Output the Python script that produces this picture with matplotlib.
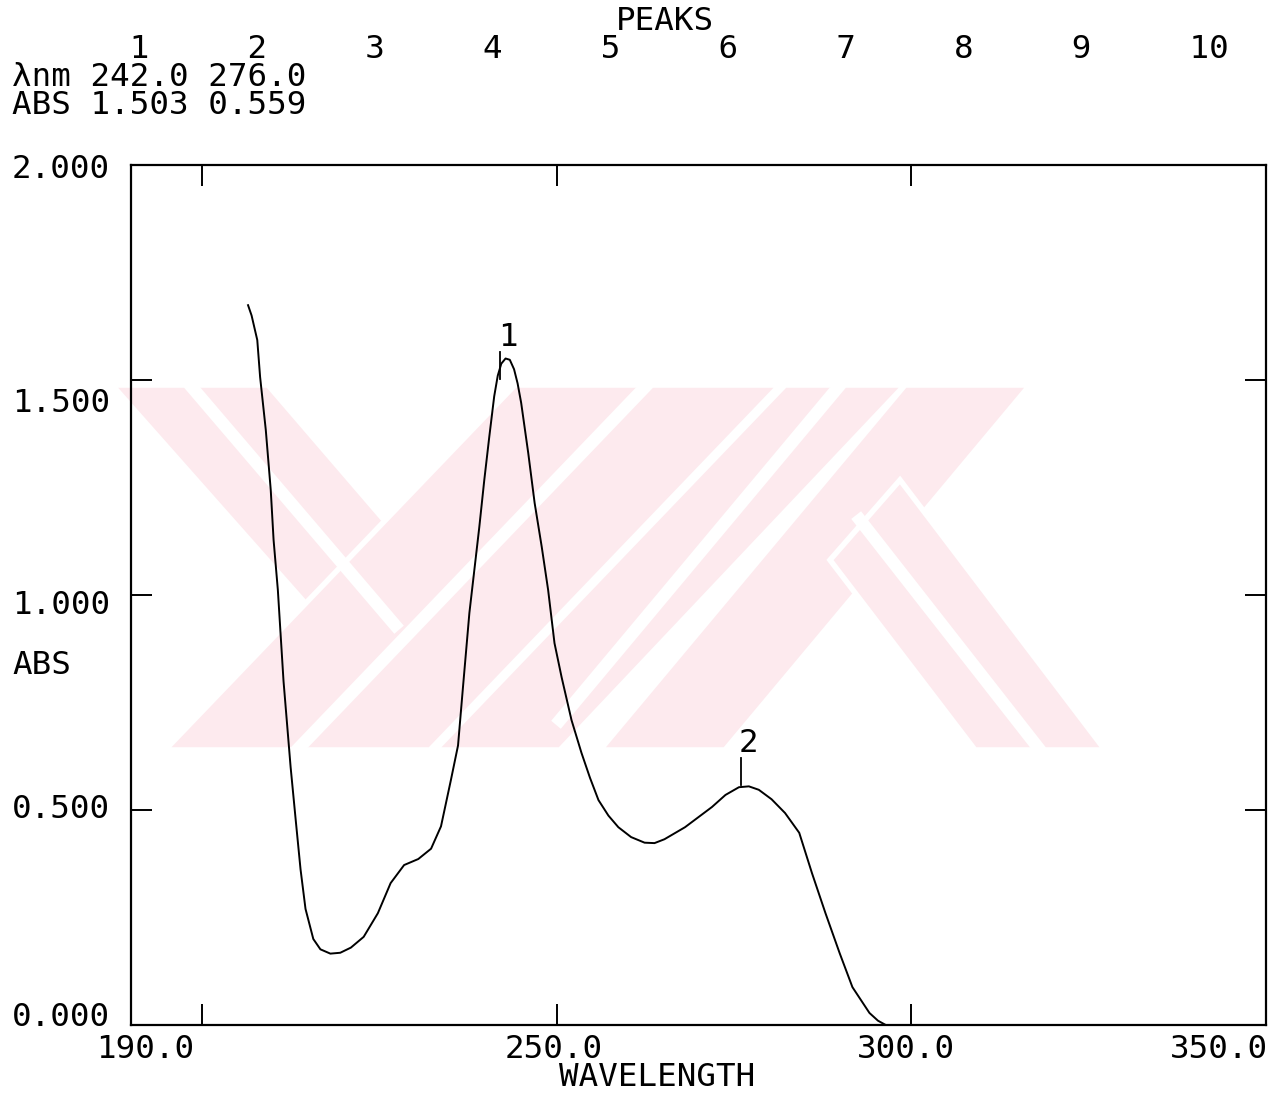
import matplotlib
matplotlib.use("Agg")
import matplotlib.pyplot as plt
from matplotlib.patches import Polygon

# spectrum (nm, absorbance)
wavelength = [206.5, 207.0, 207.8, 208.2, 209.0, 209.7, 210.1, 210.7, 211.5, 212.1,
              212.5, 213.2, 213.9, 214.6, 215.7, 216.7, 218.1, 219.5, 221.0, 222.8,
              224.8, 226.6, 228.5, 230.5, 232.3, 233.7, 235.1, 236.1, 236.8, 237.7,
              238.4, 239.1, 239.8, 240.5, 241.2, 241.7, 242.2, 242.8, 243.4, 244.0,
              244.5, 245.0, 246.0, 246.9, 247.9, 248.8, 249.7, 250.7, 252.1, 253.5,
              254.7, 255.9, 257.3, 258.7, 260.5, 262.4, 263.8, 265.2, 268.1, 271.9,
              273.8, 275.7, 277.1, 278.5, 280.3, 282.2, 284.2, 286.0, 287.9, 289.9,
              291.7, 294.1, 295.3, 296.4]
absorbance = [1.674, 1.650, 1.593, 1.507, 1.384, 1.244, 1.128, 1.012, 0.800, 0.680,
              0.600, 0.480, 0.362, 0.270, 0.200, 0.176, 0.166, 0.168, 0.180, 0.205,
              0.260, 0.330, 0.372, 0.386, 0.410, 0.462, 0.570, 0.650, 0.786, 0.958,
              1.058, 1.158, 1.267, 1.367, 1.462, 1.510, 1.538, 1.550, 1.547, 1.525,
              1.492, 1.447, 1.330, 1.214, 1.112, 1.012, 0.888, 0.809, 0.709, 0.633,
              0.575, 0.523, 0.487, 0.460, 0.437, 0.424, 0.423, 0.432, 0.460, 0.507,
              0.535, 0.553, 0.555, 0.547, 0.525, 0.493, 0.447, 0.353, 0.260, 0.167,
              0.088, 0.028, 0.010, 0.0]

peak_no = [1, 2]
peak_wl = [242.0, 276.0]
peak_abs = [1.503, 0.559]

x_ticks = [200, 250, 300]
x_labels = [190.0, 250.0, 300.0, 350.0]
y_ticks = [0.5, 1.0, 1.5]
y_labels = [0.0, 0.5, 1.0, 1.5, 2.0]

W, H = 1284, 1098
MONO = "DejaVu Sans Mono"
FS = 23.4

def fx(px):
    return px / W

def fy(py):
    return 1 - py / H

fig = plt.figure(figsize=(W / 100, H / 100), dpi=100)

# faint pink watermark, drawn in pixel coords on a background axes
bg = fig.add_axes([0, 0, 1, 1], zorder=0)
bg.set_xlim(0, W)
bg.set_ylim(H, 0)
bg.axis("off")
pink = "#fdeaee"
bands = [
    [(112, 385), (268, 385), (440, 585), (360, 665)],
    [(165, 750), (430, 750), (780, 385), (515, 385)],
    [(435, 750), (560, 750), (905, 385), (785, 385)],
    [(600, 750), (725, 750), (1030, 385), (905, 385)],
    [(830, 560), (900, 480), (1105, 750), (975, 750)],
]
for b in bands:
    bg.add_patch(Polygon(b, closed=True, facecolor=pink, edgecolor="white",
                         linewidth=4))
# thin white lines through the bands
stripes = [
    [(190, 385), (395, 625)],
    [(297, 750), (647, 385)],
    [(840, 385), (560, 720)],
    [(860, 520), (1040, 750)],
]
for s in stripes:
    bg.plot([s[0][0], s[1][0]], [s[0][1], s[1][1]], color="white", lw=9)

ax = fig.add_axes([fx(131), fy(1025), (1266 - 131) / W, (1025 - 165) / H], zorder=1)
ax.patch.set_alpha(0)
ax.set_xlim(190, 350)
ax.set_ylim(0, 2.0)

ax.plot(wavelength, absorbance, color="black", lw=1.4, solid_joinstyle="round")

for n, w, a in zip(peak_no, peak_wl, peak_abs):
    ax.plot([w, w], [a, a + 0.063], color="black", lw=1.3)
    ax.text(w + 1.1, a + 0.096, str(n), family=MONO, fontsize=FS,
            ha="center", va="center")

for s in ax.spines.values():
    s.set_linewidth(1.6)
ax.set_xticks(x_ticks)
ax.set_yticks(y_ticks)
ax.tick_params(direction="in", length=15, width=1.4, top=True, right=True,
               labelbottom=False, labelleft=False)

# tick labels, placed like the plotter did
def xpix(v):
    return 131 + (v - 190) / 160 * (1266 - 131)

def ypix(v):
    return 1025 - v / 2.0 * (1025 - 165)

x_shift = {190.0: 14, 250.0: -3, 300.0: -5, 350.0: -47}
for v in x_labels:
    fig.text(fx(xpix(v) + x_shift[v]), fy(1050), "%.1f" % v, family=MONO,
             fontsize=FS, ha="center", va="center")
y_shift = {0.0: -8, 0.5: 0, 1.0: 11, 1.5: 24, 2.0: 5}
for v in y_labels:
    fig.text(fx(110), fy(ypix(v) + y_shift[v]), "%.3f" % v, family=MONO,
             fontsize=FS, ha="right", va="center")

fig.text(fx(657), fy(1078), "WAVELENGTH", family=MONO, fontsize=FS,
         ha="center", va="center")
fig.text(fx(12), fy(665), "ABS", family=MONO, fontsize=FS, ha="left", va="center")

# peak table header
fig.text(fx(665), fy(22), "PEAKS", family=MONO, fontsize=FS, ha="center", va="center")
row = "".join(("%d" % (i + 1)).ljust(6) for i in range(10))
fig.text(fx(12), fy(50), " " * 6 + row.rstrip(), family=MONO, fontsize=FS,
         ha="left", va="center")
wl_row = "λnm " + " ".join("%.1f" % w for w in peak_wl)
abs_row = "ABS " + " ".join("%.3f" % a for a in peak_abs)
fig.text(fx(12), fy(78), wl_row, family=MONO, fontsize=FS, ha="left", va="center")
fig.text(fx(12), fy(106), abs_row, family=MONO, fontsize=FS, ha="left", va="center")

fig.savefig("out.png", dpi=100, facecolor="white")
